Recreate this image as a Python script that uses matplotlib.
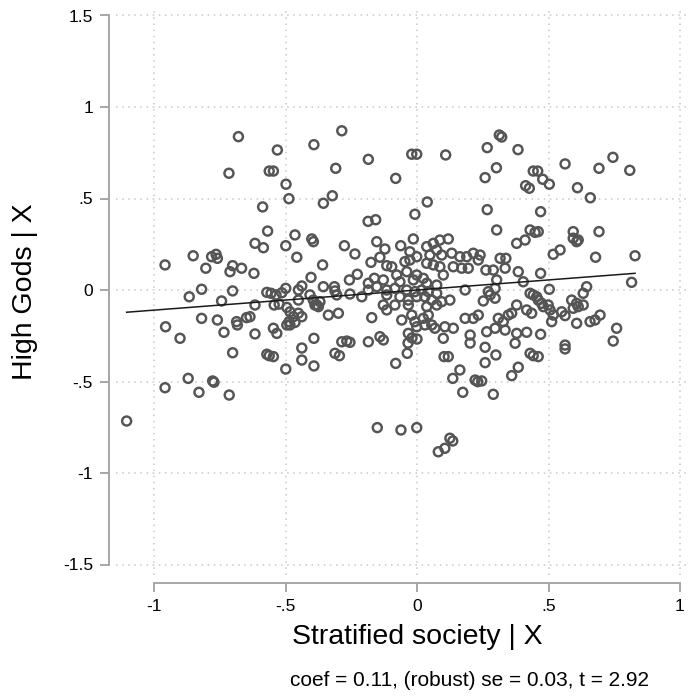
import numpy as np
import matplotlib
matplotlib.use("Agg")
import matplotlib.pyplot as plt

plt.rcParams['font.family'] = ['Liberation Sans', 'DejaVu Sans']

# ---- data: residuals (added-variable plot) ----
x_top = [-0.679, -0.715, -0.286, -0.531, -0.392, -0.185, -0.309, -0.562, -0.546, -0.498,
         -0.487, -0.587, -0.356, -0.322, -0.186, -0.157, -0.081, -0.020, -0.001, 0.109,
         0.267, 0.313, 0.322, 0.384, 0.302, 0.259, 0.413, 0.427, 0.039, -0.008,
         0.267, 0.442, 0.459, 0.478, 0.503, 0.563, 0.692, 0.745, 0.809, 0.610,
         0.659, 0.470]
y_top = [0.838, 0.638, 0.870, 0.765, 0.794, 0.714, 0.665, 0.650, 0.650, 0.578,
         0.499, 0.454, 0.474, 0.515, 0.375, 0.384, 0.610, 0.742, 0.742, 0.738,
         0.778, 0.847, 0.836, 0.767, 0.668, 0.614, 0.570, 0.556, 0.481, 0.414,
         0.439, 0.650, 0.650, 0.605, 0.578, 0.689, 0.665, 0.725, 0.654, 0.559,
         0.504, 0.428]

x_left = [-0.958, -0.851, -0.781, -0.764, -0.759, -0.803, -0.701, -0.711, -0.667, -0.819,
          -0.866, -0.701, -0.743, -0.819, -0.759, -0.956, -0.686, -0.683, -0.648, -0.734]
y_left = [0.137, 0.187, 0.182, 0.195, 0.173, 0.119, 0.133, 0.100, 0.119, 0.004,
          -0.037, -0.005, -0.060, -0.155, -0.164, -0.201, -0.173, -0.191, -0.151, -0.231]

x_midleft = [-0.568, -0.616, -0.584, -0.499, -0.464, -0.400, -0.394, -0.457, -0.276, -0.236,
             -0.153, -0.122, -0.141, -0.175, -0.115, -0.620, -0.359, -0.403, -0.227, -0.257,
             -0.185, -0.162, -0.128, -0.356, -0.314, -0.438, -0.499, -0.571, -0.555, -0.536,
             -0.514, -0.451, -0.407, -0.394, -0.381, -0.369, -0.312, -0.305, -0.255, -0.210,
             -0.185, -0.153, -0.115, -0.115, -0.616, -0.543, -0.524, -0.495, -0.451, -0.635,
             -0.483, -0.470, -0.451, -0.438, -0.486, -0.464, -0.388, -0.375, -0.337, -0.299,
             -0.172, -0.128, -0.115, -0.495, -0.483, -0.546, -0.533, -0.616,
             -0.392, -0.286, -0.267, -0.255, -0.185, -0.141, -0.128, -0.438]
y_midleft = [0.322, 0.255, 0.231, 0.242, 0.301, 0.279, 0.264, 0.179, 0.242, 0.197,
             0.264, 0.224, 0.179, 0.151, 0.133, 0.091, 0.137, 0.069, 0.086, 0.055,
             0.037, 0.064, 0.055, 0.018, 0.018, 0.022, 0.009, -0.013, -0.018, -0.027,
             -0.015, 0.000, -0.027, -0.055, -0.082, -0.064, -0.005, -0.027, -0.022, -0.037,
             0.000, 0.018, 0.000, -0.027, -0.082, -0.082, -0.077, -0.095, -0.055, -0.146,
             -0.119, -0.146, -0.127, -0.146, -0.173, -0.177, -0.082, -0.091, -0.137, -0.127,
             -0.151, -0.082, -0.109, -0.191, -0.191, -0.209, -0.237, -0.240,
             -0.264, -0.283, -0.279, -0.286, -0.283, -0.255, -0.273, -0.317]

x_center = [0.303, 0.430, 0.379, 0.411, -0.014, -0.062, 0.037, 0.062, 0.087, 0.119,
            0.075, 0.049, 0.094, -0.027, -0.001, -0.027, 0.132, 0.163, 0.189, 0.214,
            0.240, 0.233, 0.316, 0.338, 0.037, 0.062, 0.087, -0.096, -0.046, 0.138,
            0.170, 0.195, 0.262, 0.290, 0.335, 0.385, -0.077, -0.039, -0.001, 0.024,
            -0.014, -0.065, 0.037, 0.075, 0.100, -0.084, -0.039, -0.008, 0.018, 0.043,
            0.075, -0.065, -0.033, -0.001, 0.030, 0.056, 0.183, 0.271, 0.297, 0.303,
            0.404, 0.278, 0.297, 0.252, 0.125, -0.084, -0.033, 0.075, 0.037, 0.094,
            0.379, 0.417, -0.058, -0.020, -0.008, 0.024, 0.043, 0.056, 0.030, -0.001,
            0.068, 0.106, 0.138, 0.183, 0.214, 0.233, 0.309, 0.328, 0.347, 0.360,
            0.297, 0.335, 0.265, 0.379, 0.417, -0.033,
            -0.034, -0.019, 0.000, 0.100, 0.202, 0.373, 0.202]
y_center = [0.328, 0.328, 0.255, 0.273, 0.279, 0.242, 0.237, 0.255, 0.273, 0.279,
            0.219, 0.191, 0.191, 0.209, 0.182, 0.164, 0.201, 0.182, 0.182, 0.201,
            0.191, 0.164, 0.173, 0.173, 0.146, 0.137, 0.127, 0.127, 0.155, 0.127,
            0.119, 0.119, 0.109, 0.109, 0.119, 0.100, 0.082, 0.100, 0.082, 0.064,
            0.055, 0.045, 0.037, 0.027, 0.082, 0.009, 0.000, -0.009, 0.000, -0.009,
            -0.018, -0.037, -0.055, -0.037, -0.037, -0.055, 0.000, -0.009, 0.009, 0.055,
            0.045, -0.027, -0.045, -0.060, -0.055, -0.082, -0.082, -0.082, -0.091, -0.064,
            -0.082, -0.109, -0.164, -0.137, -0.173, -0.155, -0.137, -0.191, -0.191, -0.201,
            -0.209, -0.201, -0.209, -0.155, -0.155, -0.137, -0.155, -0.173, -0.137, -0.127,
            -0.209, -0.219, -0.228, -0.237, -0.231, -0.237,
            -0.290, -0.262, -0.268, -0.264, -0.246, -0.291, -0.290]

x_right = [0.449, 0.461, 0.594, 0.594, 0.607, 0.613, 0.692, 0.518, 0.544, 0.679,
           0.829, 0.470, 0.816, 0.645, 0.632, 0.503, 0.430, 0.442, 0.455, 0.461,
           0.474, 0.480, 0.499, 0.506, 0.588, 0.607, 0.594, 0.613, 0.632, 0.436,
           0.518, 0.550, 0.563, 0.512, 0.607, 0.658, 0.677, 0.696, 0.759, 0.470,
           0.746, 0.563]
y_right = [0.315, 0.319, 0.319, 0.283, 0.264, 0.273, 0.319, 0.195, 0.219, 0.179,
           0.187, 0.091, 0.042, 0.018, -0.018, 0.004, -0.018, -0.027, -0.037, -0.055,
           -0.073, -0.091, -0.082, -0.109, -0.055, -0.073, -0.100, -0.091, -0.082, -0.127,
           -0.137, -0.119, -0.140, -0.173, -0.182, -0.173, -0.164, -0.137, -0.209, -0.242,
           -0.279, -0.301]

x_bottom = [-0.901, -0.701, -0.870, -0.958, -0.829, -0.777, -0.772, -0.714, -1.104,
            -0.571, -0.562, -0.546, -0.499, -0.438, -0.392, -0.312, -0.295, -0.151,
            -0.037, -0.081, 0.103, 0.119, 0.259, 0.300, 0.259, 0.163, 0.136, 0.221,
            0.231, 0.246, 0.174, 0.290, 0.360, 0.385, 0.430, 0.442, 0.461, -0.061,
            -0.001, 0.125, 0.136, 0.106, 0.081, 0.563]
y_bottom = [-0.264, -0.343, -0.483, -0.534, -0.559, -0.497, -0.504, -0.574, -0.716,
            -0.351, -0.359, -0.364, -0.432, -0.383, -0.415, -0.346, -0.359, -0.752,
            -0.346, -0.401, -0.364, -0.364, -0.313, -0.355, -0.397, -0.437, -0.483, -0.492,
            -0.501, -0.497, -0.559, -0.570, -0.468, -0.422, -0.346, -0.359, -0.364, -0.765,
            -0.752, -0.810, -0.825, -0.865, -0.884, -0.322]

coef = 0.11
intercept = 0.0
xticks = [-1, -0.5, 0, 0.5, 1]
xtick_labels = ["-1", "-.5", "0", ".5", "1"]
yticks = [-1.5, -1, -0.5, 0, 0.5, 1, 1.5]
ytick_labels = ["-1.5", "-1", "-.5", "0", ".5", "1", "1.5"]
x_title = "Stratified society | X"
y_title = "High Gods | X"
note = "coef = 0.11, (robust) se = 0.03, t = 2.92"

x = np.array(x_top + x_left + x_midleft + x_center + x_right + x_bottom)
y = np.array(y_top + y_left + y_midleft + y_center + y_right + y_bottom)

W, H = 691, 698
fig = plt.figure(figsize=(W / 100, H / 100), dpi=100)
L, R, T, B = 116, 690, 8, 575
ax = fig.add_axes([L / W, 1 - B / H, (R - L) / W, (B - T) / H])

ax.set_xlim((L - 417) / 263, (R - 417) / 263)
ax.set_ylim((290 - B) / 183, (290 - T) / 183)

ax.grid(True, color='#c8c8c8', linestyle=(0, (1, 3)), linewidth=1.1)
ax.set_axisbelow(True)

ax.scatter(x, y, s=42, facecolors='none', edgecolors='#555555', linewidths=1.75, zorder=3)
xl = np.array([x.min(), x.max()])
ax.plot(xl, intercept + coef * xl, color='#1a1a1a', linewidth=1.1, zorder=4)

for s in ['top', 'right']:
    ax.spines[s].set_visible(False)
ax.spines['left'].set_position(('outward', 5.0))
ax.spines['bottom'].set_position(('outward', 5.8))
ax.spines['left'].set_bounds(-1.5, 1.5)
ax.spines['bottom'].set_bounds(-1, 1)
for s in ['left', 'bottom']:
    ax.spines[s].set_color('#a0a0a0')
    ax.spines[s].set_linewidth(1.3)

ax.set_xticks(xticks)
ax.set_xticklabels(xtick_labels)
ax.set_yticks(yticks)
ax.set_yticklabels(ytick_labels)
ax.tick_params(direction='out', length=6.5, width=1.3, color='#a0a0a0',
               labelsize=12.5, labelcolor='black', pad=5)

ax.set_xlabel(x_title, fontsize=20.5)
ax.set_ylabel(y_title, fontsize=20.5)
ax.xaxis.set_label_coords((417 - L) / (R - L), (B - 637) / (B - T), transform=ax.transAxes)
ax.yaxis.set_label_coords((25 - L) / (R - L), 0.5, transform=ax.transAxes)
ax.xaxis.label.set_va('center')
ax.yaxis.label.set_va('center')

fig.text(470 / W, 1 - 680 / H, note, ha='center', va='center', fontsize=15)

fig.savefig('out.png', dpi=100, facecolor='white')
